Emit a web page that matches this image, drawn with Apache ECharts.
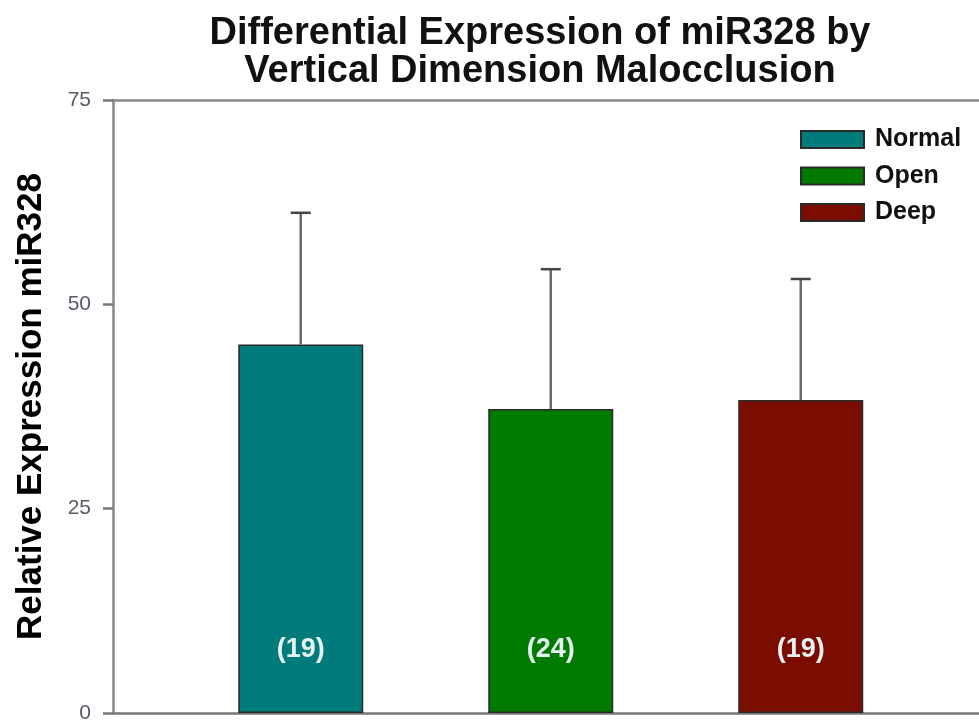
<!DOCTYPE html>
<html>
<head>
<meta charset="utf-8">
<script src="https://cdn.jsdelivr.net/npm/echarts@6/dist/echarts.min.js"></script>
<style>
html,body{margin:0;padding:0;background:#fff;}
#chart{width:979px;height:721px;}
</style>
</head>
<body>
<div id="chart"></div>
<script>
// Data
var groups = ['Normal', 'Open', 'Deep'];
var groupPos = [1, 2, 3];
var means = [45.1, 37.2, 38.3];
var sds = [16.1, 17.1, 14.8];
var counts = ['(19)', '(24)', '(19)'];
var colors = ['#007B7B', '#007B00', '#7B0C00'];
var yTicks = [0, 25, 50, 75];

var chart = echarts.init(document.getElementById('chart'));
var FONT = 'Liberation Sans, Arial, sans-serif';

var series = groups.map(function (g, i) {
  return {
    name: g,
    type: 'bar',
    barWidth: 125,
    barGap: '-100%',
    data: [[groupPos[i], means[i]]],
    itemStyle: { color: colors[i], borderColor: '#2a2a2a', borderWidth: 1.5 },
    label: {
      show: true,
      position: 'insideBottom',
      distance: 50,
      formatter: function () { return counts[i]; },
      color: '#e6f2f2',
      fontSize: 27,
      fontWeight: 'bold',
      fontFamily: FONT
    },
    z: 3
  };
});

series.push({
  type: 'custom',
  name: 'err',
  z: 2,
  data: groups.map(function (g, i) { return [groupPos[i], means[i], means[i] + sds[i]]; }),
  renderItem: function (params, api) {
    var x = api.value(0);
    var lo = api.coord([x, api.value(1)]);
    var hi = api.coord([x, api.value(2)]);
    var half = 10;
    return {
      type: 'group',
      children: [
        { type: 'line', shape: { x1: lo[0], y1: lo[1], x2: hi[0], y2: hi[1] },
          style: { stroke: '#6a6a6a', lineWidth: 2.5 } },
        { type: 'line', shape: { x1: hi[0] - half, y1: hi[1], x2: hi[0] + half, y2: hi[1] },
          style: { stroke: '#444', lineWidth: 2.5 } }
      ]
    };
  }
});

var option = {
  animation: false,
  backgroundColor: '#fff',
  title: {
    text: 'Differential Expression of miR328 by\nVertical Dimension Malocclusion',
    left: 535,
    textAlign: 'center',
    top: 10,
    textStyle: {
      fontFamily: FONT,
      fontSize: 38,
      fontWeight: 'bold',
      color: '#111',
      lineHeight: 38
    }
  },
  legend: {
    data: groups,
    orient: 'vertical',
    left: 795,
    top: 122,
    itemWidth: 63,
    itemHeight: 17,
    itemGap: 11.5,
    icon: 'rect',
    textStyle: {
      fontFamily: FONT,
      fontSize: 25,
      fontWeight: 'bold',
      color: '#111',
      lineHeight: 25,
      padding: [0, 0, 0, 6]
    },
    selectedMode: false
  },
  grid: { left: 113, top: 100, right: 0, bottom: 8, containLabel: false, outerBoundsMode: 'none' },
  xAxis: [
    {
      type: 'value',
      min: 0.249,
      max: 3.713,
      position: 'bottom',
      axisLine: { show: true, lineStyle: { color: '#777', width: 2.5 } },
      axisTick: { show: false },
      axisLabel: { show: false },
      splitLine: { show: false }
    },
    {
      type: 'value',
      min: 0.249,
      max: 3.713,
      position: 'top',
      axisLine: { show: true, onZero: false, lineStyle: { color: '#888', width: 2.5 } },
      axisTick: { show: false },
      axisLabel: { show: false },
      splitLine: { show: false }
    }
  ],
  yAxis: {
    type: 'value',
    min: yTicks[0],
    max: yTicks[yTicks.length - 1],
    interval: 25,
    name: 'Relative Expression miR328',
    nameLocation: 'middle',
    nameGap: 64,
    nameTextStyle: {
      fontFamily: FONT,
      fontSize: 35,
      fontWeight: 'bold',
      color: '#000'
    },
    axisLine: { show: true, lineStyle: { color: '#888', width: 2.5 } },
    axisTick: { show: true, length: 10, lineStyle: { color: '#777', width: 2.5 } },
    axisLabel: {
      margin: 22,
      fontFamily: FONT,
      fontSize: 21,
      color: '#5a5a6a'
    },
    splitLine: { show: false }
  },
  series: series
};

chart.setOption(option);
</script>
</body>
</html>
